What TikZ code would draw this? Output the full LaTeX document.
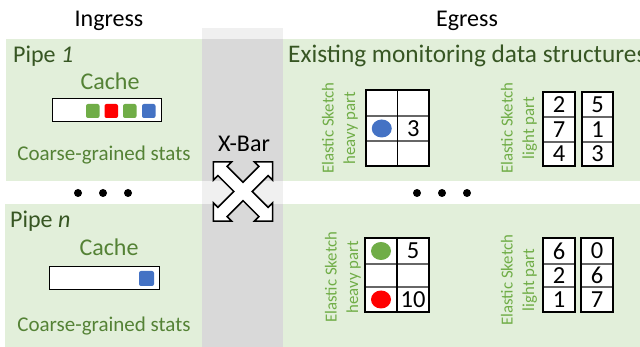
\documentclass[tikz,border=0pt]{standalone}
\usepackage{fontspec}
\setmainfont{Carlito}
\definecolor{panel}{HTML}{E2EFDA}
\definecolor{dkgreen}{HTML}{375623}
\definecolor{midgreen}{HTML}{548235}
\definecolor{ltgreen}{HTML}{70AD47}
\definecolor{xgray}{HTML}{D9D9D9}
\definecolor{xlight}{HTML}{F0F0F0}
\definecolor{esblue}{HTML}{4472C4}
\tikzset{
  big/.style={font=\fontsize{24}{28}\selectfont, inner sep=0pt},
  stats/.style={font=\fontsize{21}{25}\selectfont, inner sep=0pt, text=midgreen, anchor=base},
  cachelbl/.style={font=\fontsize{24}{28}\selectfont, inner sep=0pt, text=midgreen, anchor=base},
  eslbl/.style={font=\fontsize{16.8}{21.5}\selectfont, inner sep=0pt, text=ltgreen, rotate=90, align=center},
  num/.style={font=\fontsize{24.5}{28}\selectfont, inner sep=0pt},
  cachebox/.style={draw=black, line width=1pt, fill=white},
  sq/.style={rounded corners=2pt},
  grid outer/.style={draw=black, line width=1.1pt},
  grid inner/.style={draw=black!60, line width=1.1pt},
  dotm/.style={fill=black},
}
\begin{document}
\begin{tikzpicture}[x=1pt,y=-1pt]
\useasboundingbox (0,0) rectangle (640,347);
% panels
\fill[panel] (6,39) rectangle (202,181);
\fill[panel] (283,39) rectangle (640,181);
\fill[panel] (5,204) rectangle (202,347);
\fill[panel] (283,204) rectangle (640,347);
% crossbar column
\fill[xlight] (202,28) rectangle (283,39);
\fill[xgray] (202,39) rectangle (283,181);
\fill[xlight] (202,181) rectangle (283,204);
\fill[xgray] (202,204) rectangle (283,347);

% headers
\node[big, anchor=base] (ingress) at (109,27) {Ingress};
\node[big, anchor=base] (egress) at (467,27) {Egress};

% pipe 1
\node[big, anchor=base west, text=dkgreen] (pipe1) at (13,63) {Pipe \textit{1}};
\node[cachelbl] (cache1) at (110,90) {Cache};
\draw[cachebox] (52,99) rectangle (161,122);
\fill[ltgreen, sq] (86,104) rectangle (99.5,118);
\fill[red, sq] (104.5,104) rectangle (118,118);
\fill[ltgreen, sq] (123,104) rectangle (136.5,118);
\fill[esblue, sq] (142,104) rectangle (155.5,118);
\node[stats] (stats1) at (104,161) {Coarse-grained stats};

% pipe n
\node[big, anchor=base west, text=dkgreen] (pipen) at (10,228) {Pipe \textit{n}};
\node[cachelbl] (cachen) at (109,256) {Cache};
\draw[cachebox] (49,267) rectangle (159,290);
\fill[esblue, sq] (139,271) rectangle (154,286);
\node[stats] (statsn) at (104,331) {Coarse-grained stats};

% dots
\fill[dotm] (78,193) circle (4);
\fill[dotm] (103,193) circle (4);
\fill[dotm] (128,193) circle (4);
\fill[dotm] (417,193) circle (4);
\fill[dotm] (442,193) circle (4);
\fill[dotm] (467,193) circle (4);

% X-Bar
\node[big, anchor=base] (xbar) at (244,152) {X-Bar};
\begin{scope}[shift={(243,191.5)}, rotate=45]
\draw[fill=white, line width=1.5pt, line join=miter]
 (6.5,-6.5) -- (29,-6.5) -- (29,-13) -- (42,0) -- (29,13) -- (29,6.5) -- (6.5,6.5)
 -- (6.5,29) -- (13,29) -- (0,42) -- (-13,29) -- (-6.5,29) -- (-6.5,6.5)
 -- (-29,6.5) -- (-29,13) -- (-42,0) -- (-29,-13) -- (-29,-6.5) -- (-6.5,-6.5)
 -- (-6.5,-29) -- (-13,-29) -- (0,-42) -- (13,-29) -- (6.5,-29) -- cycle;
\end{scope}

% Existing monitoring
\begin{scope}
\clip (283,39) rectangle (640,181);
\node[font=\fontsize{25.3}{29}\selectfont, inner sep=0pt, anchor=base west, text=dkgreen] (existing) at (288,63) {Existing monitoring data structures};
\end{scope}

% top heavy part
\node[eslbl] (eshT) at (340,128) {Elastic Sketch\\heavy part};
\fill[white] (366,90) rectangle (429,166);
\draw[grid inner] (366,116) -- (429,116);
\draw[grid inner] (366,141) -- (429,141);
\draw[grid outer] (397.5,90) -- (397.5,166);
\draw[grid outer] (366,90) rectangle (429,166);
\fill[esblue] (381.75,128.5) ellipse (10 and 9);
\node[num] (hT3) at (413.25,128.5) {3};

% top light part
\node[eslbl] (eslT) at (519,128) {Elastic Sketch\\light part};
\fill[white] (543,92) rectangle (575,166);
\fill[white] (582,92) rectangle (613,166);
\draw[grid inner] (543,117) -- (575,117) (543,142) -- (575,142);
\draw[grid inner] (582,117) -- (613,117) (582,142) -- (613,142);
\draw[grid outer] (543,92) rectangle (575,166);
\draw[grid outer] (582,92) rectangle (613,166);
\node[num] (lTa1) at (559,104.5) {2};
\node[num] (lTa2) at (559,129.5) {7};
\node[num] (lTa3) at (559,154) {4};
\node[num] (lTb1) at (597.5,104.5) {5};
\node[num] (lTb2) at (597.5,129.5) {1};
\node[num] (lTb3) at (597.5,154) {3};

% bottom heavy part
\node[eslbl] (eshB) at (343,277) {Elastic Sketch\\heavy part};
\fill[white] (365,238) rectangle (429,312);
\draw[grid inner] (365,264) -- (429,264);
\draw[grid inner] (365,287) -- (429,287);
\draw[grid outer] (397,238) -- (397,312);
\draw[grid outer] (365,238) rectangle (429,312);
\fill[ltgreen] (381,251) ellipse (10 and 9);
\fill[red] (381,299.5) ellipse (10 and 9);
\node[num] (hB5) at (413,251) {5};
\node[num] (hB10) at (413,299.5) {10};

% bottom light part
\node[eslbl] (eslB) at (519,280) {Elastic Sketch\\light part};
\fill[white] (543,238) rectangle (575,312);
\fill[white] (581,238) rectangle (613,312);
\draw[grid inner] (543,264) -- (575,264) (543,287) -- (575,287);
\draw[grid inner] (581,264) -- (613,264) (581,287) -- (613,287);
\draw[grid outer] (543,238) rectangle (575,312);
\draw[grid outer] (581,238) rectangle (613,312);
\node[num] (lBa1) at (559,251) {6};
\node[num] (lBa2) at (559,275.5) {2};
\node[num] (lBa3) at (559,299.5) {1};
\node[num] (lBb1) at (597,251) {0};
\node[num] (lBb2) at (597,275.5) {6};
\node[num] (lBb3) at (597,299.5) {7};
\end{tikzpicture}
\end{document}
